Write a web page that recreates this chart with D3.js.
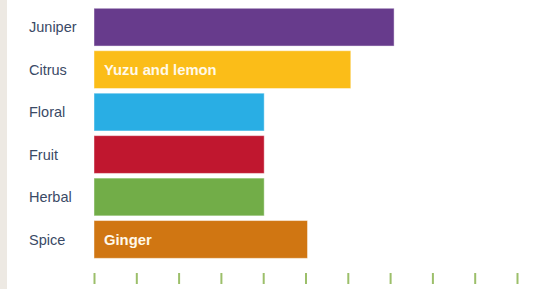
<!DOCTYPE html>
<html>
<head>
<meta charset="utf-8">
<script src="https://cdn.jsdelivr.net/npm/d3@7"></script>
<style>
  html, body { margin: 0; padding: 0; background: #fff; }
  svg { display: block; font-family: "Liberation Sans", Arial, sans-serif; }
</style>
</head>
<body>
<svg class="canvas" width="537" height="289"></svg>
<script>
// flavour categories, score values, colours and inner labels
var categories = ['Juniper', 'Citrus', 'Floral', 'Fruit', 'Herbal', 'Spice'];
var values = [7, 6, 4, 4, 4, 5];
var colors = ['#673b8c', '#fbbd18', '#29aee4', '#c0172f', '#72ad48', '#d07612'];
var innerLabels = ['', 'Yuzu and lemon', '', '', '', 'Ginger'];
var tickValues = d3.range(0, 11);

var svg = d3.select('.canvas');

// beige strip on the left edge
svg.append('rect')
    .attr('x', 0).attr('y', 0)
    .attr('width', 7).attr('height', 289)
    .attr('fill', '#ede9e3');

var barStart = 94;
// tick axis and bar length scale (bars run a little past their tick)
var x = d3.scaleLinear().domain([0, 10]).range([94.5, 517.5]);
var xBar = d3.scaleLinear().domain([0, 10]).range([91, 524]);
var y = d3.scaleBand().domain(categories).range([3.6, 263]).paddingInner(0.11).paddingOuter(0.11);

var data = categories.map(function(c, i){
    return {name: c, value: values[i], color: colors[i], label: innerLabels[i]};
});

svg.selectAll('.bar')
    .data(data)
    .enter().append('rect')
    .classed('bar', true)
    .attr('x', barStart)
    .attr('y', function(d){ return y(d.name); })
    .attr('width', function(d){ return xBar(d.value) - barStart; })
    .attr('height', y.bandwidth())
    .attr('fill', function(d){ return d.color; })
    .attr('stroke', 'rgba(255,255,255,0.45)')
    .attr('stroke-width', 1);

svg.selectAll('.inner-label')
    .data(data.filter(function(d){ return d.label; }))
    .enter().append('text')
    .classed('inner-label', true)
    .attr('x', barStart + 10)
    .attr('y', function(d){ return y(d.name) + y.bandwidth() / 2; })
    .attr('dy', '0.36em')
    .attr('fill', '#fff9ea')
    .attr('font-size', '14.8px')
    .attr('font-weight', 'bold')
    .text(function(d){ return d.label; });

svg.selectAll('.cat-label')
    .data(data)
    .enter().append('text')
    .classed('cat-label', true)
    .attr('x', 29)
    .attr('y', function(d){ return y(d.name) + y.bandwidth() / 2; })
    .attr('dy', '0.36em')
    .attr('fill', '#3a4a66')
    .attr('font-size', '14.5px')
    .text(function(d){ return d.name; });

// bottom tick marks, no labels
svg.selectAll('.tick-mark')
    .data(tickValues)
    .enter().append('line')
    .classed('tick-mark', true)
    .attr('x1', function(d){ return x(d); })
    .attr('x2', function(d){ return x(d); })
    .attr('y1', 273)
    .attr('y2', 284)
    .attr('stroke', '#9cbf6a')
    .attr('stroke-width', 2);
</script>
</body>
</html>
